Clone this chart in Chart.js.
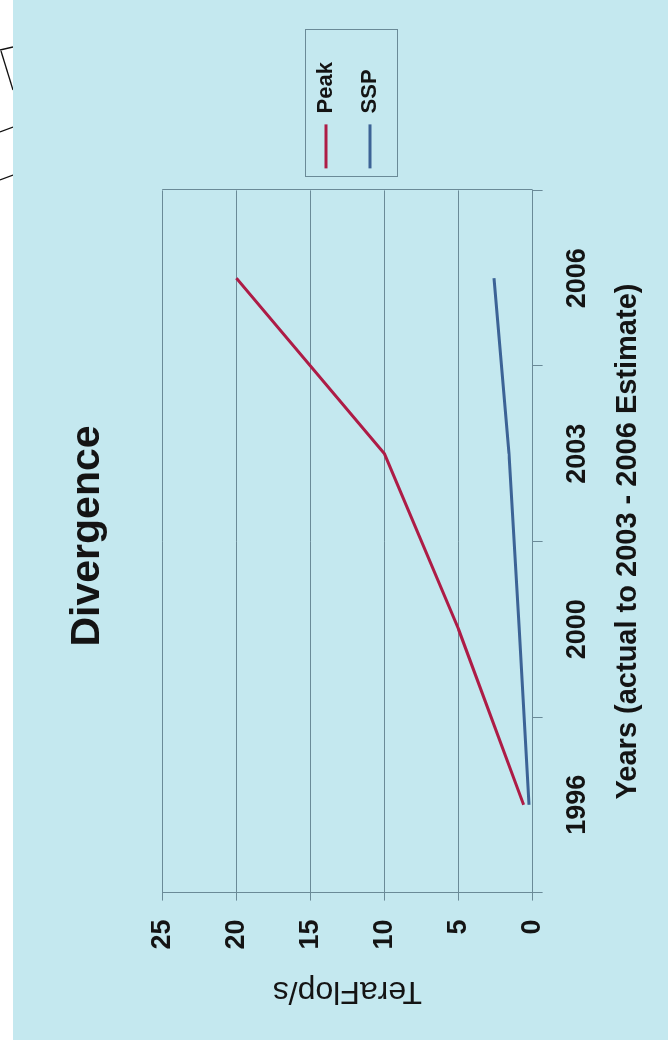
<!DOCTYPE html>
<html>
<head>
<meta charset="utf-8">
<script src="https://cdn.jsdelivr.net/npm/chart.js@4.4.1/dist/chart.umd.min.js"></script>
<style>
  html, body { margin: 0; padding: 0; background: #ffffff; width: 668px; height: 1048px; overflow: hidden; }
  #sketch { position: absolute; left: 0; top: 0; }
  /* the chart is laid out landscape and turned a quarter turn to the left */
  #panel {
    position: absolute; left: 0; top: 0;
    width: 1040px; height: 655px;
    background: #c4e8ef;
    transform-origin: 0 0;
    transform: translate(13px, 1040px) rotate(-90deg);
  }
  canvas { display: block; }
</style>
</head>
<body>
<svg id="sketch" width="13" height="200">
  <g stroke="#111" stroke-width="1.3" fill="none">
    <line x1="0" y1="50" x2="13" y2="47"/>
    <line x1="1" y1="51" x2="13" y2="90"/>
    <line x1="0" y1="132" x2="13" y2="127"/>
    <line x1="0" y1="180" x2="13" y2="175"/>
  </g>
</svg>
<div id="panel"><canvas id="chart" width="1040" height="655"></canvas></div>
<script>
// Performance in TeraFlop/s
const years = ['1996', '2000', '2003', '2006'];
const peak  = [0.6, 5, 10, 20];
const ssp   = [0.25, 0.9, 1.6, 2.6];
const yMin = 0, yMax = 25, yStep = 5;

const FAMILY = "'Liberation Sans', Arial, Helvetica, sans-serif";
const GRID = '#6a8a97';
const INK = '#141414';

Chart.defaults.font.family = FAMILY;
Chart.defaults.color = INK;

// right edge of the plot and the box round the legend
const framePlugin = {
  id: 'framePlugin',
  afterDraw(chart) {
    const { ctx, chartArea: a, legend } = chart;
    ctx.save();
    ctx.strokeStyle = GRID;
    ctx.lineWidth = 1;
    const xr = Math.round(a.right) + 0.5;
    ctx.beginPath();
    ctx.moveTo(xr, a.top);
    ctx.lineTo(xr, a.bottom);
    ctx.stroke();
    const hb = legend && legend.legendHitBoxes;
    if (hb && hb.length) {
      const l = hb[0].left - 9;
      const t = hb[0].top - 10;
      const r = Math.max(...hb.map(h => h.left + h.width)) + 32;
      const last = hb[hb.length - 1];
      const b = last.top + last.height + 16;
      ctx.strokeRect(Math.round(l) + 0.5, Math.round(t) + 0.5, Math.round(r - l), Math.round(b - t));
    }
    ctx.restore();
  }
};

new Chart(document.getElementById('chart'), {
  type: 'line',
  data: {
    labels: years,
    datasets: [
      { label: 'Peak', data: peak, borderColor: '#ad1c46', backgroundColor: '#ad1c46',
        borderWidth: 3, pointRadius: 0, tension: 0, fill: false },
      { label: 'SSP', data: ssp, borderColor: '#3c6396', backgroundColor: '#3c6396',
        borderWidth: 3, pointRadius: 0, tension: 0, fill: false }
    ]
  },
  options: {
    responsive: false,
    animation: false,
    devicePixelRatio: 1,
    layout: { padding: { left: 20, right: 52, top: 20, bottom: 5 } },
    plugins: {
      title: {
        display: true,
        text: 'Divergence',
        color: INK,
        font: { size: 41, weight: 'bold' },
        padding: { top: 30, bottom: 50 }
      },
      legend: {
        display: true,
        position: 'right',
        labels: {
          color: INK,
          font: { size: 22, weight: 'bold' },
          boxWidth: 44,
          boxHeight: 3,
          padding: 22,
          generateLabels(chart) {
            const items = Chart.defaults.plugins.legend.labels.generateLabels(chart);
            items.forEach(it => { it.lineWidth = 0; it.fillStyle = it.strokeStyle; });
            return items;
          }
        }
      },
      tooltip: { enabled: false }
    },
    scales: {
      x: {
        type: 'category',
        offset: true,
        grid: { display: true, offset: true, drawOnChartArea: false, tickLength: 10, color: GRID },
        border: { display: true, color: GRID },
        ticks: { color: INK, font: { size: 27, weight: 'bold' }, padding: 19, maxRotation: 0 },
        title: {
          display: true,
          text: 'Years (actual to 2003 - 2006 Estimate)',
          color: INK,
          font: { size: 29, weight: 'bold', lineHeight: 1.0 },
          padding: { top: 0, bottom: 21 }
        }
      },
      y: {
        min: yMin,
        max: yMax,
        ticks: { stepSize: yStep, color: INK, font: { size: 27, weight: 'bold' }, padding: 19 },
        grid: { color: GRID, tickLength: 8 },
        border: { display: true, color: GRID },
        title: {
          display: true,
          text: 'TeraFlop/s',
          color: INK,
          font: { size: 32, weight: 'normal' },
          padding: { top: 10, bottom: 3 }
        }
      }
    }
  },
  plugins: [framePlugin]
});
</script>
</body>
</html>
